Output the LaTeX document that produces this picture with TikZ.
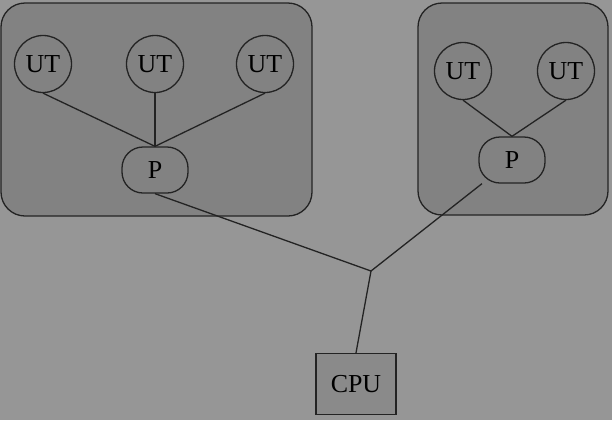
\documentclass[tikz,border=0pt]{standalone}
\usepackage{fontspec}
\setmainfont{Liberation Serif}
\definecolor{bggray}{RGB}{150,150,150}
\definecolor{boxgray}{RGB}{130,130,130}
\definecolor{cpugray}{RGB}{138,138,138}
\definecolor{linegray}{RGB}{35,35,35}
\begin{document}
\begin{tikzpicture}[
    x=1bp, y=-1bp,
    group/.style={draw=linegray, fill=boxgray, line width=1.3bp, rounded corners=24bp},
    term/.style={circle, draw=linegray, fill=boxgray, line width=1.3bp,
        minimum size=57bp, inner sep=0pt, font=\fontsize{26}{30}\selectfont},
    proc/.style={rectangle, rounded corners=21bp, draw=linegray, fill=boxgray, line width=1.3bp,
        minimum width=66bp, minimum height=46bp, inner sep=0pt, font=\fontsize{26}{30}\selectfont},
    cpu/.style={rectangle, draw=linegray, fill=cpugray, line width=1.3bp,
        minimum width=80bp, minimum height=61bp, inner sep=0pt, font=\fontsize{26}{30}\selectfont},
    link/.style={draw=linegray, line width=1.3bp, -}
]
    \fill[bggray] (0,0) rectangle (612,420);
    \useasboundingbox (0,0) rectangle (612,420);
    % groups
    \draw[group] (1,3) rectangle (312,216);
    \draw[group] (418,3) rectangle (608,215);
    % left group
    \node[term] (ut1) at (43,64) {UT};
    \node[term] (ut2) at (155,64) {UT};
    \node[term] (ut3) at (265,64) {UT};
    \node[proc] (pL) at (155,170) {P};
    % right group
    \node[term] (ut4) at (463,71) {UT};
    \node[term] (ut5) at (566,71) {UT};
    \node[proc] (pR) at (512,160) {P};
    % cpu
    \coordinate (j) at (371,271);
    \node[cpu] (cpu) at (356,384) {CPU};
    \draw[link] (ut1.south) -- (pL.north);
    \draw[link] (ut2.south) -- (pL.north);
    \draw[link] (ut3.south) -- (pL.north);
    \draw[link] (ut4.south) -- (pR.north);
    \draw[link] (ut5.south) -- (pR.north);
    \draw[link] (pL.south) -- (j);
    \draw[link] (pR) -- (j);
    \draw[link] (j) -- (cpu.north);
\end{tikzpicture}
\end{document}
